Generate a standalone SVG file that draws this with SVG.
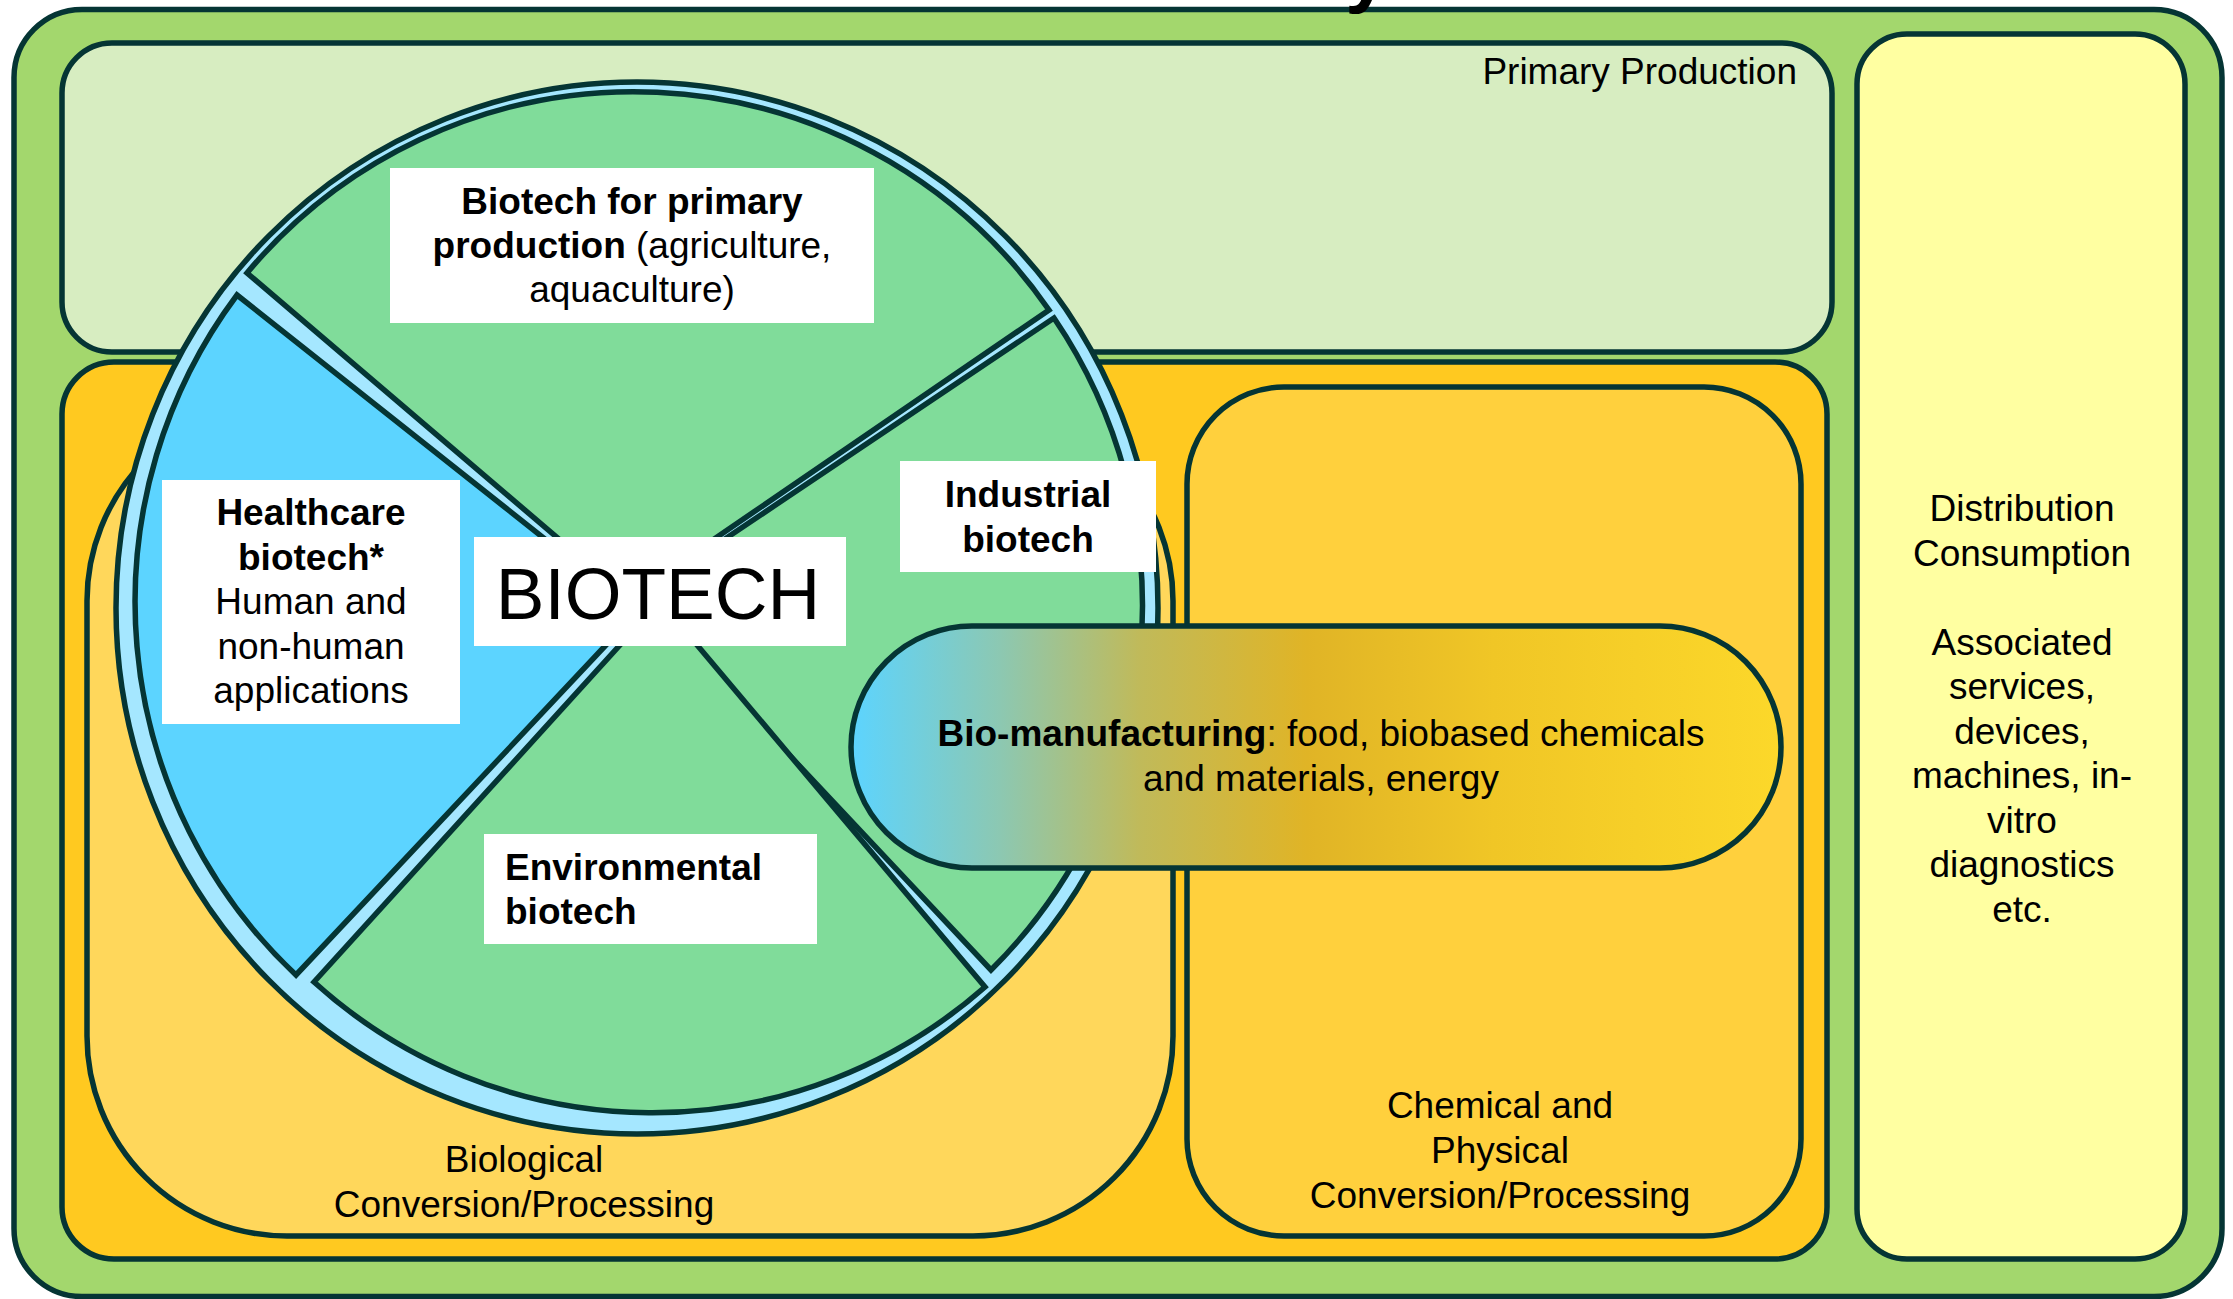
<svg xmlns="http://www.w3.org/2000/svg" width="2233" height="1299" viewBox="0 0 2233 1299">
<defs>
<style>
.box{stroke:#053534;stroke-width:5.5}
.sec{stroke:#053534;stroke-width:5.5;stroke-linejoin:miter}
.lbl{fill:#ffffff}
text{font-family:"Liberation Sans",Arial,sans-serif;font-size:37px;fill:#000000}
.b{font-weight:bold}
.c{text-anchor:middle}
</style>
<linearGradient id="pillGrad" x1="0" y1="0" x2="1" y2="0">
<stop offset="0" stop-color="#5CD4FF"/>
<stop offset="0.16" stop-color="#8CC8B2"/>
<stop offset="0.31" stop-color="#C0BA5A"/>
<stop offset="0.49" stop-color="#E0B426"/>
<stop offset="0.69" stop-color="#F0C626"/>
<stop offset="1" stop-color="#FCD82A"/>
</linearGradient>
</defs>
<rect width="2233" height="1299" fill="#ffffff"/>

<g id="bioeconomy">
<rect class="box" x="14" y="9.5" width="2208" height="1287" rx="68" fill="#A3D76D"/>
</g>
<g id="primary-production">
<rect class="box" x="62" y="43" width="1770" height="309" rx="50" fill="#D7EDC1"/>
<text x="1797" y="84" text-anchor="end">Primary Production</text>
</g>
<g id="distribution">
<rect class="box" x="1857" y="34" width="328" height="1225" rx="50" fill="#FFFFA1"/>
<text class="c" x="2022" y="521">Distribution</text>
<text class="c" x="2022" y="565.5">Consumption</text>
<text class="c" x="2022" y="654.5">Associated</text>
<text class="c" x="2022" y="699">services,</text>
<text class="c" x="2022" y="743.5">devices,</text>
<text class="c" x="2022" y="788">machines, in-</text>
<text class="c" x="2022" y="832.5">vitro</text>
<text class="c" x="2022" y="877">diagnostics</text>
<text class="c" x="2022" y="921.5">etc.</text>
</g>
<g id="processing">
<rect class="box" x="62" y="362" width="1765" height="897" rx="52" fill="#FFC920"/>
</g>
<g id="biological">
<rect class="box" x="87" y="401" width="1086" height="835" rx="200" fill="#FFD75B"/>
<text class="c" x="524" y="1172">Biological</text>
<text class="c" x="524" y="1217">Conversion/Processing</text>
</g>
<g id="chemical">
<rect class="box" x="1187" y="387" width="614" height="849" rx="97" fill="#FFD03D"/>
<text class="c" x="1500" y="1118">Chemical and</text>
<text class="c" x="1500" y="1163">Physical</text>
<text class="c" x="1500" y="1208">Conversion/Processing</text>
</g>

<g id="biotech-circle">
<ellipse class="box" cx="637" cy="608" rx="521" ry="526" fill="#A5E7FF"/>
<path id="sector-primary" class="sec" fill="#80DC9A" d="M 628 598 L 247 273 A 506 510 0 0 1 1049 310 Z"/>
<path id="sector-industrial" class="sec" fill="#80DC9A" d="M 640 596 L 1054 318 A 506 510 0 0 1 991 970 Z"/>
<path id="sector-environmental" class="sec" fill="#80DC9A" d="M 660 601 L 985 987 A 506 510 0 0 1 314 982 Z"/>
<path id="sector-healthcare" class="sec" fill="#5CD4FF" d="M 637 612 L 296 975 A 506 510 0 0 1 237 295 Z"/>
</g>

<g id="label-primary">
<rect class="lbl" x="390" y="168" width="484" height="155"/>
<text class="c" x="632" y="214"><tspan class="b">Biotech for primary</tspan></text>
<text class="c" x="632" y="258"><tspan class="b">production</tspan> (agriculture,</text>
<text class="c" x="632" y="302">aquaculture)</text>
</g>
<g id="label-healthcare">
<rect class="lbl" x="162" y="480" width="298" height="244"/>
<text class="c b" x="311" y="525">Healthcare</text>
<text class="c b" x="311" y="569.5">biotech*</text>
<text class="c" x="311" y="614">Human and</text>
<text class="c" x="311" y="658.5">non-human</text>
<text class="c" x="311" y="703">applications</text>
</g>
<g id="label-biotech">
<rect class="lbl" x="474" y="537" width="372" height="109"/>
<text class="c" x="658" y="619" style="font-size:73px">BIOTECH</text>
</g>
<g id="label-industrial">
<rect class="lbl" x="900" y="461" width="256" height="111"/>
<text class="c b" x="1028" y="507">Industrial</text>
<text class="c b" x="1028" y="552">biotech</text>
</g>
<g id="label-environmental">
<rect class="lbl" x="484" y="834" width="333" height="110"/>
<text class="b" x="505" y="880">Environmental</text>
<text class="b" x="505" y="924">biotech</text>
</g>

<g id="bio-manufacturing">
<rect class="box" x="851" y="626" width="930" height="242" rx="121" fill="url(#pillGrad)"/>
<text class="c" x="1321" y="746"><tspan class="b">Bio-manufacturing</tspan>: food, biobased chemicals</text>
<text class="c" x="1321" y="791">and materials, energy</text>
</g>

<g id="connectors"></g>

<g id="title">
<text class="b" x="915" y="-3" style="font-size:79px">Bioeconomy</text>
</g>
</svg>
